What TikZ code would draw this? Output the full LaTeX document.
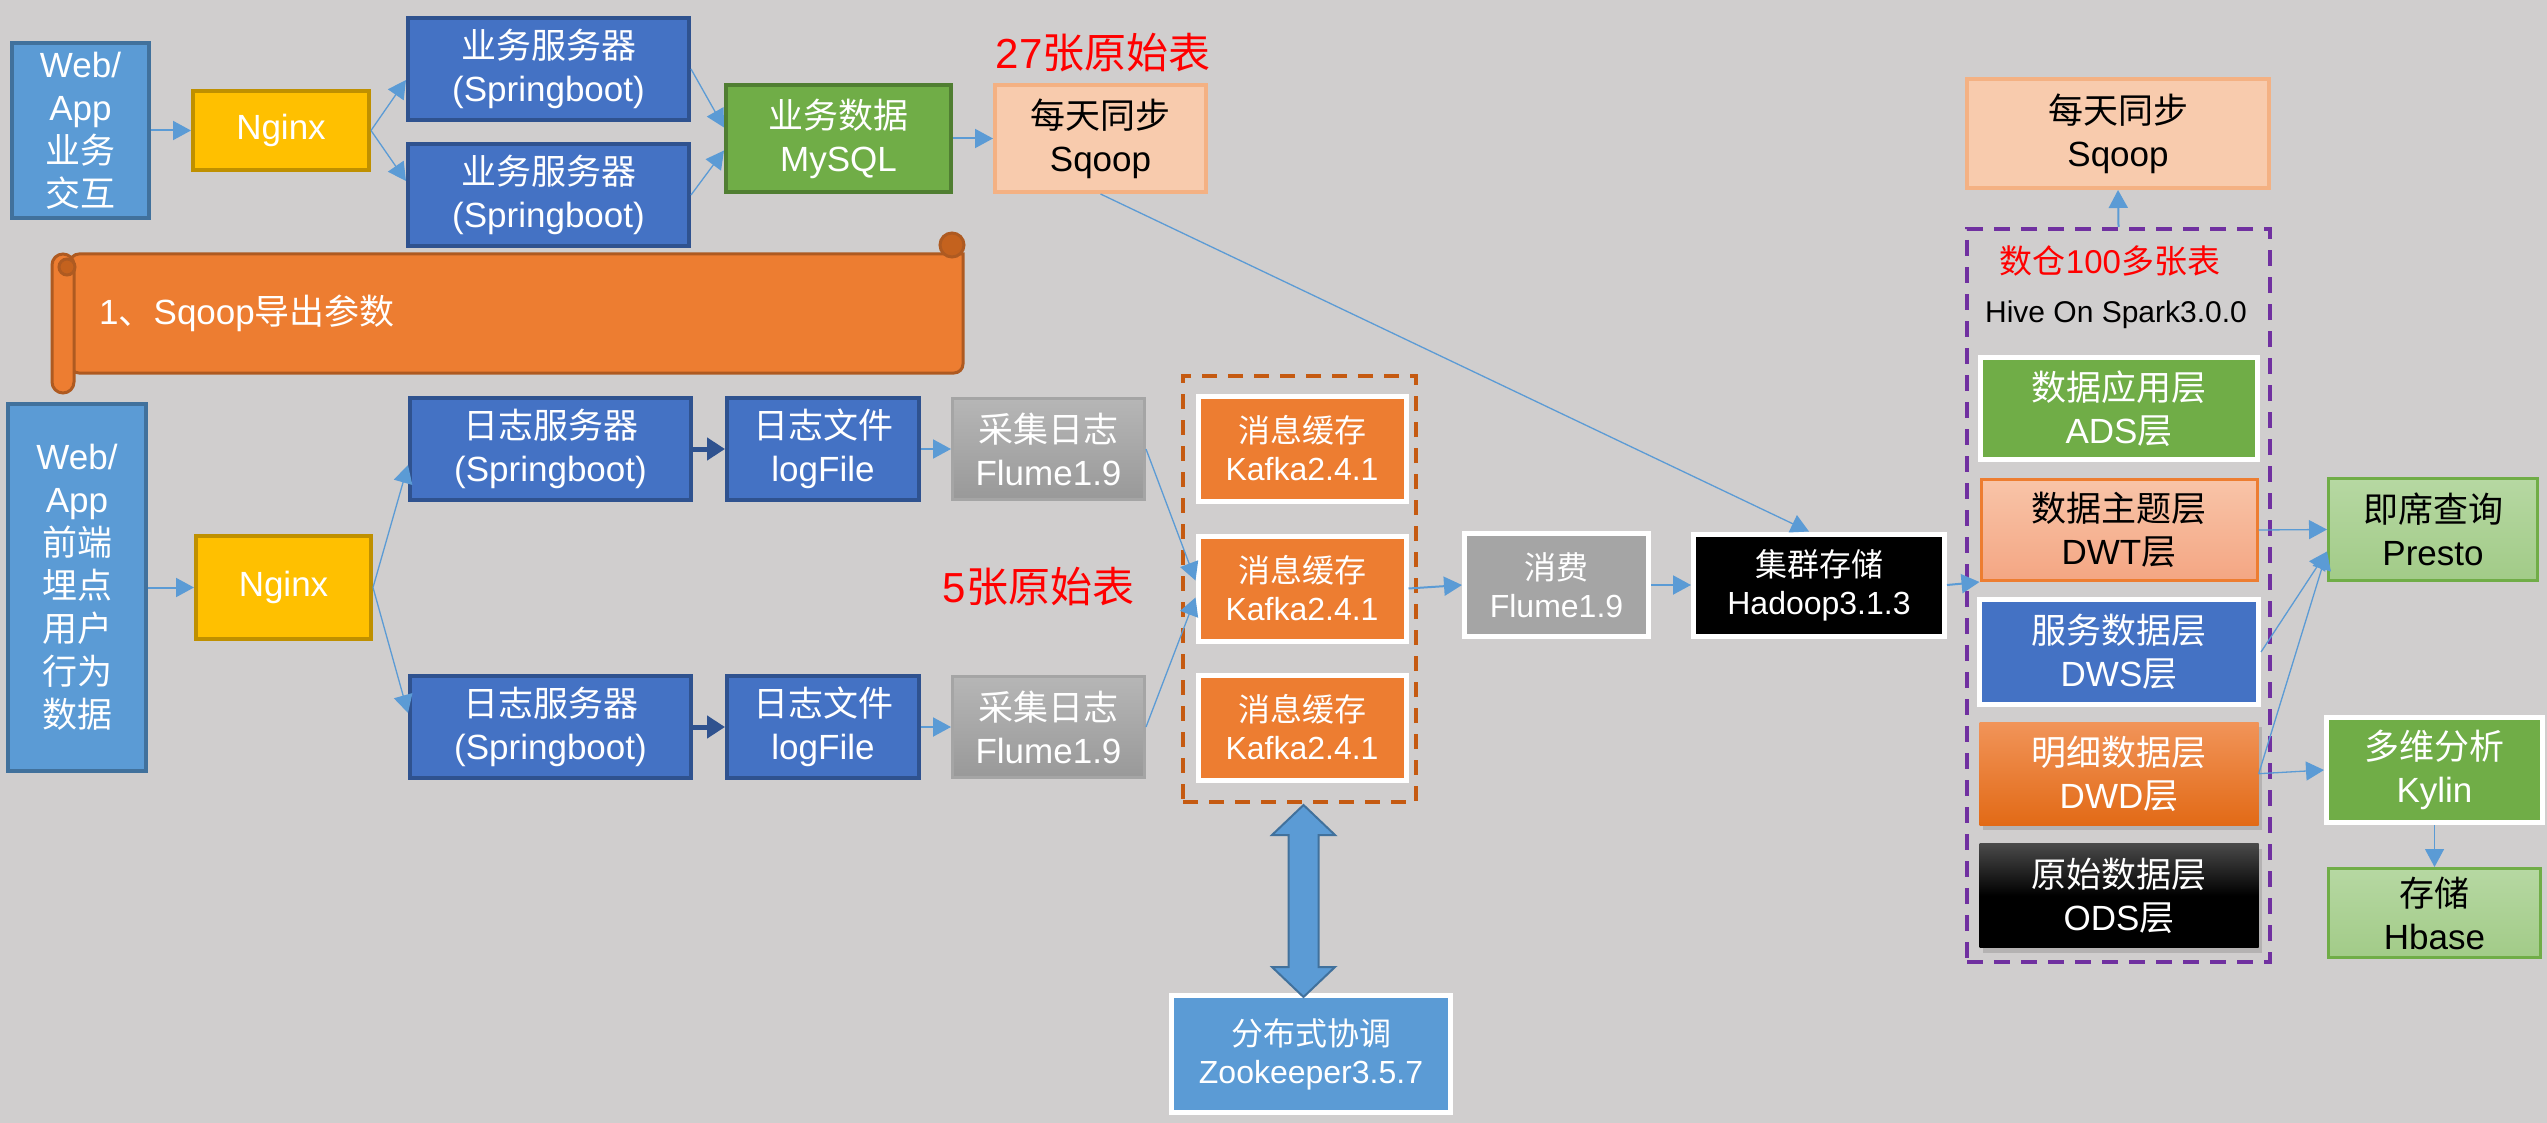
\documentclass[tikz,border=0pt]{standalone}
\usepackage{fontspec}
\setmainfont{Liberation Sans}
\newfontfamily\zh{Noto Sans CJK SC}
\usetikzlibrary{positioning, arrows.meta, shadows}

\definecolor{bgGray}{HTML}{D0CECE}
\definecolor{skyBlue}{HTML}{5B9BD5}
\definecolor{skyEdge}{HTML}{41719C}
\definecolor{royal}{HTML}{4472C4}
\definecolor{royalEdge}{HTML}{2F528F}
\definecolor{amber}{HTML}{FFC000}
\definecolor{amberEdge}{HTML}{BF9000}
\definecolor{leaf}{HTML}{70AD47}
\definecolor{leafEdge}{HTML}{507E32}
\definecolor{peach}{HTML}{F8CBAD}
\definecolor{peachEdge}{HTML}{F4B183}
\definecolor{tang}{HTML}{ED7D31}
\definecolor{tangEdge}{HTML}{AE5A21}
\definecolor{tangDark}{HTML}{C4621E}
\definecolor{rust}{HTML}{C55A11}
\definecolor{dwPurple}{HTML}{7030A0}
\definecolor{ash}{HTML}{A5A5A5}
\definecolor{flumeTop}{HTML}{B6B6B6}
\definecolor{flumeBot}{HTML}{999999}
\definecolor{dwtTop}{HTML}{F8C4A8}
\definecolor{dwtBot}{HTML}{F4A683}
\definecolor{dwdTop}{HTML}{F19459}
\definecolor{dwdBot}{HTML}{E26A16}
\definecolor{odsTop}{HTML}{4A4A4A}
\definecolor{mintTop}{HTML}{B6D8A2}
\definecolor{mintBot}{HTML}{A2CB88}

\newcommand{\bigtxt}{\fontsize{35}{43}\selectfont}
\newcommand{\midtxt}{\fontsize{32}{38}\selectfont}
\newcommand{\redtxt}{\fontsize{42}{42}\selectfont}

\begin{document}
\begin{tikzpicture}[
    x=1pt, y=-1pt,
    box/.style={rectangle, inner sep=0pt, align=center, text=white, font=\bigtxt},
    skybox/.style={box, fill=skyBlue, draw=skyEdge, line width=4pt},
    gatebox/.style={box, fill=amber, draw=amberEdge, line width=4pt},
    srvbox/.style={box, fill=royal, draw=royalEdge, line width=4pt, minimum width=281pt, minimum height=102pt},
    leafbox/.style={box, fill=leaf, draw=leafEdge, line width=4pt},
    peachbox/.style={box, fill=peach, draw=peachEdge, line width=4pt, text=black},
    flumebox/.style={box, top color=flumeTop, bottom color=flumeBot, draw=ash, line width=3pt, minimum width=192pt, minimum height=101pt},
    whitebox/.style={box, draw=white, line width=5pt},
    kafkabox/.style={whitebox, fill=tang, font=\midtxt, minimum width=208pt, minimum height=105pt},
    mintbox/.style={box, top color=mintTop, bottom color=mintBot, draw=leaf, line width=3pt, text=black},
    redlabel/.style={text=red, inner sep=0pt, font=\redtxt},
    flow/.style={draw=skyBlue, line width=2pt, -{Triangle[length=18pt, width=19pt]}},
    thinflow/.style={flow, line width=1.3pt},
    darkflow/.style={draw=royalEdge, line width=5pt, -{Triangle[length=18pt, width=22pt]}},
    scroll/.style={fill=tang, draw=tangEdge, line width=3pt},
    layershadow/.style={drop shadow={shadow xshift=3pt, shadow yshift=-5pt, opacity=0.35}}
]

\fill[bgGray] (0,0) rectangle (2547,1123);
\useasboundingbox (0,0) rectangle (2547,1123);

% Business data line
\node[skybox, minimum width=137pt, minimum height=175pt] (webA) at (80.5,130.5) {Web/\\App\\{\zh 业务}\\{\zh 交互}};
\node[gatebox, minimum width=176pt, minimum height=79pt, right=40pt of webA] (nginxA) {Nginx};
\node[srvbox] (bizA) at (548.5,69) {{\zh 业务服务器}\\(Springboot)};
\node[srvbox, below=20pt of bizA] (bizB) {{\zh 业务服务器}\\(Springboot)};
\node[leafbox, minimum width=225pt, minimum height=107pt] (mysql) at (838.5,138.5) {{\zh 业务数据}\\MySQL};
\node[peachbox, minimum width=211pt, minimum height=107pt, right=40pt of mysql] (sqoopA) {{\zh 每天同步}\\Sqoop};
\node[redlabel] (tables27) at (1103,53) {27{\zh 张原始表}};

% Scroll banner
\filldraw[scroll] (70,254) -- (963,254) [rounded corners=9pt] -- (963,373) -- (70,373) -- cycle;
\filldraw[scroll, fill=tangDark] (952,245) circle[radius=12pt];
\filldraw[scroll, rounded corners=11pt] (52,254) rectangle (74,393);
\filldraw[scroll, fill=tangDark] (67,267) circle[radius=8pt];
\node[anchor=west, text=white, font=\bigtxt, inner sep=0pt] (exportTip) at (99,313) {1{\zh 、}Sqoop{\zh 导出参数}};

% User behaviour log line
\node[skybox, minimum width=138pt, minimum height=367pt] (webB) at (77,587.5) {Web/\\App\\{\zh 前端}\\{\zh 埋点}\\{\zh 用户}\\{\zh 行为}\\{\zh 数据}};
\node[gatebox, minimum width=175pt, minimum height=103pt, right=46pt of webB] (nginxB) {Nginx};
\node[srvbox] (logsrvA) at (550.5,449) {{\zh 日志服务器}\\(Springboot)};
\node[srvbox, minimum width=192pt, right=32pt of logsrvA] (logfileA) {{\zh 日志文件}\\logFile};
\node[flumebox, right=30pt of logfileA] (flumeA) {{\zh 采集日志}\\Flume1.9};
\node[srvbox] (logsrvB) at (550.5,727) {{\zh 日志服务器}\\(Springboot)};
\node[srvbox, minimum width=192pt, right=32pt of logsrvB] (logfileB) {{\zh 日志文件}\\logFile};
\node[flumebox, right=30pt of logfileB] (flumeB) {{\zh 采集日志}\\Flume1.9};
\node[redlabel] (tables5) at (1038.5,587) {5{\zh 张原始表}};

% Kafka cluster
\node[kafkabox] (kafkaA) at (1302,448.5) {{\zh 消息缓存}\\Kafka2.4.1};
\node[kafkabox, below=30pt of kafkaA] (kafkaB) {{\zh 消息缓存}\\Kafka2.4.1};
\node[kafkabox, below=29pt of kafkaB] (kafkaC) {{\zh 消息缓存}\\Kafka2.4.1};
\node[draw=rust, dash pattern=on 15pt off 11pt, line width=4pt, minimum width=233pt, minimum height=426pt, inner sep=0pt] (kgroup) at (1299.5,589) {};
\node[whitebox, fill=ash, font=\midtxt, minimum width=184pt, minimum height=103pt] (consume) at (1556.5,585) {{\zh 消费}\\Flume1.9};
\node[whitebox, fill=black, font=\midtxt, minimum width=251pt, minimum height=102pt, right=40pt of consume] (hadoop) {{\zh 集群存储}\\Hadoop3.1.3};
\node[whitebox, fill=skyBlue, font=\midtxt, minimum width=279pt, minimum height=117pt] (zk) at (1311,1054) {{\zh 分布式协调}\\Zookeeper3.5.7};

% Warehouse layers
\node[peachbox, minimum width=302pt, minimum height=109pt] (sqoopB) at (2118,133.5) {{\zh 每天同步}\\Sqoop};
\node[draw=dwPurple, dash pattern=on 16pt off 11pt, line width=4pt, minimum width=303pt, minimum height=733pt, inner sep=0pt] (dw) at (2118.5,595.5) {};
\node[text=red, font=\fontsize{33}{33}\selectfont, inner sep=0pt] (tables100) at (2110,261) {{\zh 数仓}100{\zh 多张表}};
\node[font=\fontsize{30}{30}\selectfont, inner sep=0pt] (hive) at (2116,315) {Hive On Spark3.0.0};
\node[whitebox, fill=leaf, minimum width=277pt, minimum height=102pt] (ads) at (2119,408.5) {{\zh 数据应用层}\\ADS{\zh 层}};
\node[box, top color=dwtTop, bottom color=dwtBot, draw=tang, line width=3pt, text=black, minimum width=276pt, minimum height=101pt, below=16pt of ads] (dwt) {{\zh 数据主题层}\\DWT{\zh 层}};
\node[whitebox, fill=royal, minimum width=279pt, minimum height=105pt, below=15pt of dwt] (dws) {{\zh 服务数据层}\\DWS{\zh 层}};
\node[box, layershadow, top color=dwdTop, bottom color=dwdBot, minimum width=279pt, minimum height=103pt, below=15pt of dws] (dwd) {{\zh 明细数据层}\\DWD{\zh 层}};
\node[box, layershadow, top color=odsTop, bottom color=black, middle color=black, minimum width=279pt, minimum height=104pt, below=18pt of dwd] (ods) {{\zh 原始数据层}\\ODS{\zh 层}};

% Query side
\node[mintbox, minimum width=209pt, minimum height=102pt] (presto) at (2433,529.5) {{\zh 即席查询}\\Presto};
\node[whitebox, fill=leaf, minimum width=216pt, minimum height=105pt] (kylin) at (2434.5,770) {{\zh 多维分析}\\Kylin};
\node[mintbox, minimum width=212pt, minimum height=89pt, below=42pt of kylin] (hbase) {{\zh 存储}\\Hbase};

% Connections
\draw[flow] (webA) -- (nginxA);
\draw[thinflow] (nginxA.east) -- ([yshift=-11pt]bizA.west);
\draw[thinflow] (nginxA.east) -- ([yshift=14pt]bizB.west);
\draw[thinflow] (bizA.east) -- ([yshift=11pt]mysql.west);
\draw[thinflow] (bizB.east) -- ([yshift=-12pt]mysql.west);
\draw[flow] (mysql) -- (sqoopA);
\draw[thinflow] (sqoopA.south) -- ([xshift=-10pt]hadoop.north);

\draw[flow] (webB) -- (nginxB);
\draw[thinflow] (nginxB.east) -- ([yshift=-16pt]logsrvA.west);
\draw[thinflow] (nginxB.east) -- ([yshift=14pt]logsrvB.west);
\draw[darkflow] (logsrvA) -- (logfileA);
\draw[darkflow] (logsrvB) -- (logfileB);
\draw[flow] (logfileA) -- (flumeA);
\draw[flow] (logfileB) -- (flumeB);
\draw[thinflow] (flumeA.east) -- ([yshift=8pt]kafkaB.west);
\draw[thinflow] (flumeB.east) -- ([yshift=-9pt]kafkaB.west);
\draw[flow] (kafkaB.east) -- (consume.west);
\draw[flow] (consume) -- (hadoop);
\draw[flow] (hadoop.east) -- (dwt.south west);

\draw[flow] (dw.north) -- (sqoopB.south);
\draw[thinflow] (dwt.east) -- (presto.west);
\draw[thinflow] (dws.east) -- ([yshift=-22pt]presto.west);
\draw[thinflow] (dwd.east) -- ([yshift=-22pt]presto.west);
\draw[thinflow] (dwd.east) -- (kylin.west);
\draw[thinflow] (kylin) -- (hbase);

% Kafka <-> Zookeeper
\filldraw[fill=skyBlue, draw=skyEdge, line width=2pt] ([xshift=4pt, yshift=-1pt]kgroup.south)
    -- ++(31.5,30) -- ++(-16.5,0) -- ++(0,132) -- ++(16.5,0) -- ++(-31.5,30)
    -- ++(-31.5,-30) -- ++(16.5,0) -- ++(0,-132) -- ++(-16.5,0) -- cycle;

\end{tikzpicture}
\end{document}
